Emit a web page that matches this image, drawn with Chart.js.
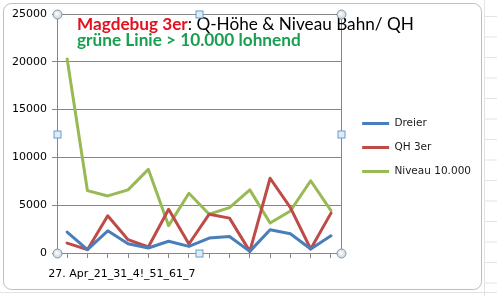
<!DOCTYPE html>
<html><head><meta charset="utf-8">
<script src="https://cdn.jsdelivr.net/npm/chart.js@4"></script>
<style>html,body{margin:0;padding:0;background:#fff;}canvas{display:block}</style>
</head><body>
<canvas id="c" width="497" height="296"></canvas>
<script>
const categories = ['27. Apr_21_31_4!_51_61_7','','','','','','','','','','','','',''];
const seriesNames = ['Dreier', 'QH 3er', 'Niveau 10.000'];
const dreier = [2190, 350, 2320, 970, 520, 1230, 690, 1560, 1730, 170, 2430, 2010, 420, 1800];
const qh3er  = [1040, 350, 3890, 1390, 630, 4580, 940, 4060, 3650, 170, 7820, 4750, 420, 4170];
const niveau = [20300, 6520, 5970, 6600, 8750, 2860, 6250, 4060, 4750, 6600, 3130, 4400, 7560, 4440];
const yTicks = [0, 5000, 10000, 15000, 20000, 25000];
const titleLine1 = [['Magdebug 3er', '#e3101f', 'bold'], [': Q-Höhe & Niveau Bahn/ QH', '#000000', 'normal']];
const titleLine2 = 'grüne Linie > 10.000 lohnend';

const colors = ['#4a7ebb', '#be4b48', '#98b954'];
const AXIS = '#868686';
const FAM = 'Lato, "Open Sans", sans-serif';

function measureParts(ctx, parts, size) {
  let w = 0;
  for (const p of parts) { ctx.font = p[2] + ' ' + size + 'px ' + FAM; w += ctx.measureText(p[0]).width; }
  return w;
}

const decor = {
  id: 'decor',
  beforeDraw(chart) {
    const ctx = chart.ctx;
    ctx.save();
    ctx.fillStyle = '#ffffff';
    ctx.fillRect(0, 0, chart.width, chart.height);
    ctx.strokeStyle = '#e3e3e3';
    ctx.lineWidth = 1;
    ctx.beginPath();
    ctx.moveTo(484.5, 0); ctx.lineTo(484.5, 296);
    for (let y = 16.5; y < 296; y += 20.5) { ctx.moveTo(485, y); ctx.lineTo(497, y); }
    ctx.moveTo(0, 292.5); ctx.lineTo(497, 292.5);
    ctx.stroke();
    ctx.strokeStyle = '#bdbdbd';
    ctx.beginPath();
    ctx.roundRect(3.5, 3.5, 478, 286, 8);
    ctx.fillStyle = '#ffffff';
    ctx.fill();
    ctx.stroke();
    ctx.restore();
  },
  afterDraw(chart) {
    const ctx = chart.ctx;
    const a = chart.chartArea;
    ctx.save();
    ctx.strokeStyle = AXIS;
    ctx.lineWidth = 1;
    ctx.beginPath();
    ctx.moveTo(Math.round(a.right) + 0.5, a.top);
    ctx.lineTo(Math.round(a.right) + 0.5, a.bottom);
    ctx.stroke();
    const x0 = a.left + 20;
    const s1 = 100 * 337 / measureParts(ctx, titleLine1, 100);
    ctx.textBaseline = 'alphabetic';
    ctx.textAlign = 'left';
    let x = x0;
    for (const [t, c, w] of titleLine1) {
      ctx.font = w + ' ' + s1 + 'px ' + FAM;
      ctx.fillStyle = c;
      ctx.fillText(t, x, a.top + 16);
      x += ctx.measureText(t).width;
    }
    const s2 = 100 * 224 / measureParts(ctx, [[titleLine2, '', 'bold']], 100);
    ctx.font = 'bold ' + s2 + 'px ' + FAM;
    ctx.fillStyle = '#1a9e4f';
    ctx.fillText(titleLine2, x0, a.top + 32);
    const L = Math.round(a.left) + 0.5, R = Math.round(a.right) + 0.5;
    const T = Math.round(a.top) + 0.5, B = Math.round(a.bottom) + 0.5;
    const mx = Math.round((a.left + a.right) / 2) + 0.5, my = Math.round((a.top + a.bottom) / 2) + 0.5;
    function circ(cx, cy) {
      const g = ctx.createRadialGradient(cx - 1, cy - 1, 0, cx, cy, 4.5);
      g.addColorStop(0, '#ffffff'); g.addColorStop(1, '#c9d6e2');
      ctx.fillStyle = g; ctx.strokeStyle = '#8597a8'; ctx.lineWidth = 1;
      ctx.beginPath(); ctx.arc(cx, cy, 4.5, 0, Math.PI * 2); ctx.fill(); ctx.stroke();
    }
    function sq(cx, cy) {
      ctx.fillStyle = '#dcecf8'; ctx.strokeStyle = '#6c9cc6'; ctx.lineWidth = 1;
      ctx.fillRect(cx - 3.5, cy - 3.5, 7, 7); ctx.strokeRect(cx - 3.5, cy - 3.5, 7, 7);
    }
    circ(L, T); circ(R, T); circ(L, B); circ(R, B);
    sq(mx, T); sq(mx, B); sq(L, my); sq(R, my);
    ctx.restore();
  }
};

const ds = [dreier, qh3er, niveau].map((d, i) => ({
  label: seriesNames[i], data: d,
  borderColor: colors[i], backgroundColor: colors[i],
  borderWidth: 3, pointRadius: 0, tension: 0, fill: false,
  borderCapStyle: 'round', borderJoinStyle: 'round'
}));

new Chart(document.getElementById('c'), {
  type: 'line',
  data: { labels: categories, datasets: ds },
  plugins: [decor],
  options: {
    responsive: false, animation: false, devicePixelRatio: 1,
    layout: { padding: { left: 12, top: 14, right: 16, bottom: 15 } },
    plugins: {
      tooltip: { enabled: false },
      legend: {
        position: 'right', align: 'center', maxWidth: 140,
        labels: {
          boxWidth: 27, boxHeight: 3, padding: 13.5, color: '#1a1a1a',
          font: { family: 'DejaVu Sans', size: 10.5 },
          generateLabels(chart) {
            return Chart.defaults.plugins.legend.labels.generateLabels(chart).map(l => Object.assign(l, { lineWidth: 0 }));
          }
        }
      }
    },
    scales: {
      x: {
        offset: true,
        grid: { drawOnChartArea: false, drawTicks: true, tickLength: 5, color: AXIS },
        border: { color: AXIS },
        afterFit: s => { s.height = 28; s.paddingLeft = 0; s.paddingRight = 0; },
        ticks: {
          autoSkip: false, maxRotation: 0, minRotation: 0, align: 'start', labelOffset: -19, padding: 9.8,
          color: '#000', font: { family: 'DejaVu Sans', size: 11 },
          callback: (v, i) => categories[i]
        }
      },
      y: {
        min: yTicks[0], max: yTicks[yTicks.length - 1],
        afterBuildTicks: s => { s.ticks = yTicks.map(v => ({ value: v })); },
        afterFit: s => { s.width = 45; },
        grid: { color: AXIS, tickLength: 5 },
        border: { color: AXIS },
        ticks: { padding: 5, color: '#000', font: { family: 'DejaVu Sans', size: 11 }, callback: v => String(v) }
      },
      ghost: {
        type: 'linear', position: 'right', display: true,
        grid: { display: false, drawTicks: false }, border: { display: false },
        ticks: { display: false },
        afterFit: s => { s.width = 7.5; }
      }
    }
  }
});
</script>
</body></html>
